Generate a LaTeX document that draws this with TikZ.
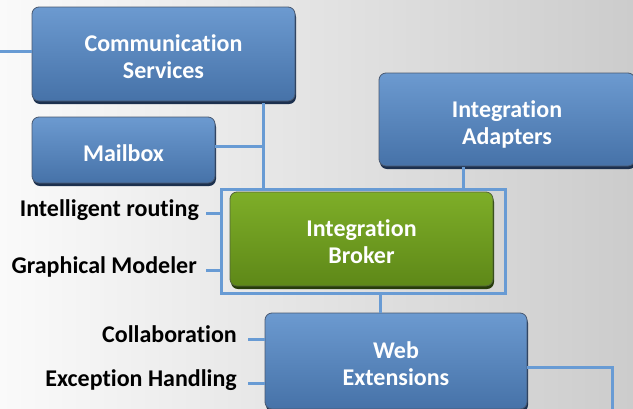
\documentclass[tikz,border=0pt]{standalone}
\usepackage{fontspec}
\setmainfont{Carlito}[Ligatures=NoCommon]
\usetikzlibrary{calc}
\definecolor{bgL}{RGB}{250,250,250}
\definecolor{bgR}{RGB}{204,204,204}
\definecolor{lnC}{RGB}{104,155,212}
\definecolor{bTop}{RGB}{108,154,208}
\definecolor{bBot}{RGB}{70,114,168}
\definecolor{bDark}{RGB}{28,48,78}
\definecolor{gTop}{RGB}{126,174,40}
\definecolor{gBot}{RGB}{94,136,24}
\definecolor{gDark}{RGB}{38,60,10}
\newcommand\boxtext[1]{\raisebox{-6pt}[\height][\depth]{\begin{tabular}{@{}c@{}}#1\end{tabular}}}
\tikzset{
  boxbase/.style={rounded corners=7pt, align=center, text=white,
    font=\bfseries\fontsize{24}{27}\selectfont, inner sep=0pt},
  bluebox/.style={boxbase, top color=bTop, bottom color=bBot, draw=bDark!80, line width=0.8pt,
    preaction={fill=bDark, rounded corners=7pt, transform canvas={xshift=1pt,yshift=-3pt}}},
  greenbox/.style={boxbase, top color=gTop, bottom color=gBot, draw=gDark!80, line width=0.8pt,
    preaction={fill=gDark, rounded corners=7pt, transform canvas={xshift=1pt,yshift=-3pt}}},
  lbl/.style={anchor=east, inner sep=0pt, text height=0.9em, text depth=0.18em,
    font=\bfseries\fontsize{24}{27}\selectfont, text=black},
  conn/.style={draw=lnC, line width=3pt},
  framebox/.style={draw=lnC, line width=3pt, inner sep=0pt}
}
\begin{document}
\begin{tikzpicture}[x=1pt,y=-1pt]
\shade[left color=bgL, right color=bgR] (0,0) rectangle (633,408);
\useasboundingbox (0,0) rectangle (633,408);
% frame around broker
\node[framebox, minimum width=284, minimum height=104] (frame) at (363,241) {};
% boxes
\node[bluebox, minimum width=263, minimum height=94] (comm) at (163.5,54) {\boxtext{Communication\\Services}};
\node[bluebox, minimum width=183, minimum height=66] (mail) at (123.5,150) {\boxtext{Mailbox}};
\node[bluebox, minimum width=256, minimum height=93] (adapt) at (507,119.5) {\boxtext{Integration\\Adapters}};
\node[greenbox, minimum width=263, minimum height=94] (broker) at (361.5,239) {\boxtext{Integration\\Broker}};
\node[bluebox, minimum width=262, minimum height=96] (web) at (396,361) {\boxtext{Web\\Extensions}};
% labels
\node[lbl] (ir) at (199,213) {Intelligent routing};
\node[lbl] (gm) at (197,270) {Graphical Modeler};
\node[lbl] (co) at (237,339) {Collaboration};
\node[lbl] (eh) at (237,383) {Exception Handling};
% coordinates
\coordinate (lend) at (0,51);
\coordinate (cv) at (263,103);
\coordinate (av) at (463,167);
\coordinate (wv) at (380,293);
\coordinate (wr) at (612,412);
% connectors
\draw[conn] (lend) -- (lend -| comm.west);
\draw[conn] (cv) -- (cv |- frame.north);
\draw[conn] ([yshift=4pt]mail.east) -- ([yshift=4pt]mail.east -| cv);
\draw[conn] (av) -- (av |- frame.north);
\draw[conn] (wv) -- (wv |- web.north);
\draw[conn] ([yshift=-6pt]web.east) -| (wr);
\draw[conn] ([xshift=7pt]ir.east) -- (ir.east -| frame.west);
\draw[conn] ([xshift=9pt]gm.east) -- (gm.east -| frame.west);
\draw[conn] ([xshift=11pt]co.east) -- (co.east -| web.west);
\draw[conn] ([xshift=11pt]eh.east) -- (eh.east -| web.west);
\end{tikzpicture}
\end{document}
